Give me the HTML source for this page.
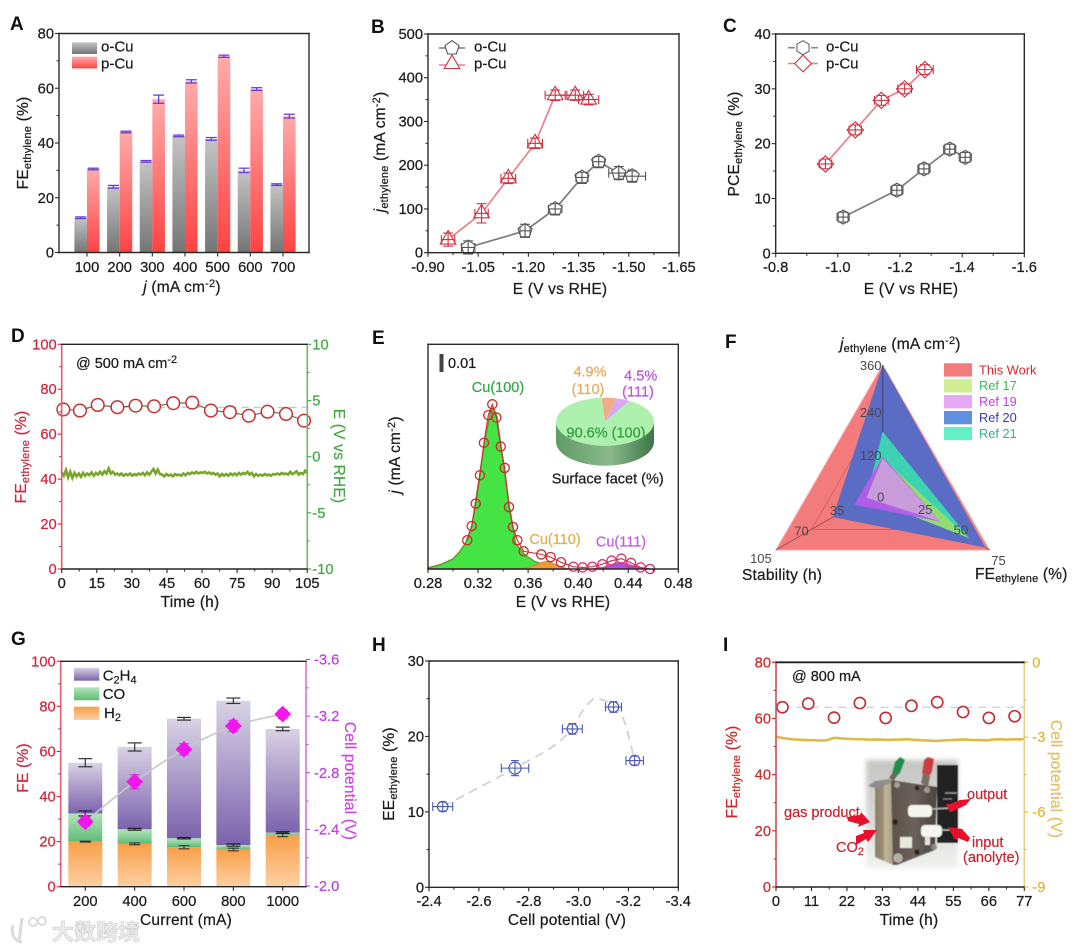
<!DOCTYPE html>
<html lang="en">
<head>
<meta charset="utf-8">
<title>Electrocatalysis performance figure</title>
<style>
html,body{margin:0;padding:0;background:#fff;}
svg{display:block;filter:blur(.35px);font-family:"Liberation Sans","Noto Sans CJK SC",sans-serif;}
.tick,.title,.leg,.note{color:#1a1a1a;fill:currentColor;stroke:currentColor;stroke-width:.22px;}
.tick{font-size:14.7px;}
.title{font-size:15.5px;letter-spacing:.2px;}
.leg{font-size:15px;}
.letter{font-size:19px;font-weight:bold;fill:#111;}
.sub{font-size:11px;}
.note{font-size:14.5px;}
.anno{font-size:14.5px;fill:#c8242f;stroke:#c8242f;stroke-width:.2px;}
</style>
</head>
<body>
<svg xmlns="http://www.w3.org/2000/svg" width="1080" height="950" viewBox="0 0 1080 950">
<defs>
<linearGradient id="gGrey" x1="0" y1="0" x2="0" y2="1"><stop offset="0" stop-color="#c4c4c4"/><stop offset="1" stop-color="#757575"/></linearGradient>
<linearGradient id="gRed" x1="0" y1="0" x2="0" y2="1"><stop offset="0" stop-color="#ffabab"/><stop offset="1" stop-color="#ff4343"/></linearGradient>
<linearGradient id="gPurple" x1="0" y1="0" x2="0" y2="1"><stop offset="0" stop-color="#d9d2e4"/><stop offset="1" stop-color="#7a63ad"/></linearGradient>
<linearGradient id="gGreen" x1="0" y1="0" x2="0" y2="1"><stop offset="0" stop-color="#b4e4ba"/><stop offset="1" stop-color="#5fbb78"/></linearGradient>
<linearGradient id="gOrange" x1="0" y1="0" x2="0" y2="1"><stop offset="0" stop-color="#f99f48"/><stop offset="1" stop-color="#fdd0a4"/></linearGradient>
<linearGradient id="gPieSide" x1="0" y1="0" x2="1" y2="0"><stop offset="0" stop-color="#5f9c66"/><stop offset=".55" stop-color="#8bb98c"/><stop offset="1" stop-color="#3c7546"/></linearGradient>
<linearGradient id="gPhoto" x1="0" y1="0" x2="0" y2="1"><stop offset="0" stop-color="#c4c4c2"/><stop offset=".6" stop-color="#dcdcda"/><stop offset="1" stop-color="#f0f0ee"/></linearGradient>
<linearGradient id="gPlate" x1="0" y1="0" x2="1" y2="0"><stop offset="0" stop-color="#5a524c"/><stop offset=".5" stop-color="#6b6159"/><stop offset="1" stop-color="#4a4540"/></linearGradient>
<linearGradient id="gSide" x1="0" y1="0" x2="1" y2="0"><stop offset="0" stop-color="#8c8068"/><stop offset=".45" stop-color="#9a8c74"/><stop offset=".55" stop-color="#c2b69c"/><stop offset="1" stop-color="#aca086"/></linearGradient>
<filter id="soft" x="-10%" y="-10%" width="120%" height="120%"><feGaussianBlur stdDeviation="2.5"/></filter>
<filter id="soft1" x="-10%" y="-10%" width="120%" height="120%"><feGaussianBlur stdDeviation=".6"/></filter>
</defs>

<text class="letter" x="10" y="30">A</text>
<text class="letter" x="371" y="33">B</text>
<text class="letter" x="723" y="32">C</text>
<text class="letter" x="11" y="342">D</text>
<text class="letter" x="372" y="344">E</text>
<text class="letter" x="725" y="348">F</text>
<text class="letter" x="11" y="645">G</text>
<text class="letter" x="372" y="651">H</text>
<text class="letter" x="723" y="651">I</text>

<g id="panelA">
  <text class="title" transform="translate(28,143) rotate(-90)" text-anchor="middle">FE<tspan class="sub" dy="3">ethylene</tspan><tspan dy="-3"> (%)</tspan></text>
  <text class="title" x="182" y="292" text-anchor="middle"><tspan font-style="italic">j</tspan> (mA cm<tspan class="sub" dy="-5">-2</tspan><tspan dy="5">)</tspan></text>
  <rect x="72" y="42.3" width="25" height="11.7" fill="url(#gGrey)"/>
  <rect x="72" y="56.7" width="25" height="11.7" fill="url(#gRed)"/>
  <text class="leg" x="101" y="51.7">o-Cu</text>
  <text class="leg" x="101" y="68.3">p-Cu</text>
</g>

<g id="panelB">
  <text class="title" transform="translate(385,152) rotate(-90)" text-anchor="middle"><tspan font-style="italic">j</tspan><tspan class="sub" dy="3">ethylene</tspan><tspan dy="-3"> (mA cm</tspan><tspan class="sub" dy="-5">-2</tspan><tspan dy="5">)</tspan></text>
  <text class="title" x="560" y="294" text-anchor="middle">E (V vs RHE)</text>
  <text class="leg" x="474" y="51.7">o-Cu</text>
  <text class="leg" x="474" y="68.3">p-Cu</text>
</g>

<g id="panelC">
  <text class="title" transform="translate(739,144) rotate(-90)" text-anchor="middle">PCE<tspan class="sub" dy="3">ethylene</tspan><tspan dy="-3"> (%)</tspan></text>
  <text class="title" x="911" y="294" text-anchor="middle">E (V vs RHE)</text>
  <text class="leg" x="826" y="51.7">o-Cu</text>
  <text class="leg" x="826" y="68.3">p-Cu</text>
</g>

<g id="panelD">
  <text class="title" style="color:#d0263f" transform="translate(26,457) rotate(-90)" text-anchor="middle">FE<tspan class="sub" dy="3">ethylene</tspan><tspan dy="-3"> (%)</tspan></text>
  <text class="title" style="color:#45a845" transform="translate(334,456) rotate(90)" text-anchor="middle">E (V vs RHE)</text>
  <text class="title" x="190" y="607" text-anchor="middle">Time (h)</text>
  <text class="note" x="76" y="368">@ 500 mA cm<tspan class="sub" dy="-5">-2</tspan></text>
</g>

<g id="panelE">
  <text class="title" transform="translate(400,455) rotate(-90)" text-anchor="middle"><tspan font-style="italic">j</tspan> (mA cm<tspan class="sub" dy="-5">-2</tspan><tspan dy="5">)</tspan></text>
  <text class="title" x="563" y="607" text-anchor="middle">E (V vs RHE)</text>
  <rect x="439.5" y="354" width="4" height="18" fill="#444"/>
  <text class="note" x="448" y="368">0.01</text>
  <text class="note" style="color:#2eaa4a" x="498" y="392" text-anchor="middle">Cu(100)</text>
  <text class="note" style="color:#e0b050" x="555" y="544" text-anchor="middle">Cu(110)</text>
  <text class="note" style="color:#c060e0" x="621" y="546.7" text-anchor="middle">Cu(111)</text>
</g>

<g id="panelF">
  <text class="title" x="840" y="349"><tspan font-style="italic">j</tspan><tspan class="sub" dy="3">ethylene</tspan><tspan dy="-3"> (mA cm</tspan><tspan class="sub" dy="-5">-2</tspan><tspan dy="5">)</tspan></text>
  <text class="title" x="742" y="580">Stability (h)</text>
  <text class="title" x="975" y="579">FE<tspan class="sub" dy="3">ethylene</tspan><tspan dy="-3"> (%)</tspan></text>
</g>

<g id="panelG">
  <text class="title" style="color:#d0263f" transform="translate(28,768) rotate(-90)" text-anchor="middle">FE (%)</text>
  <text class="title" style="color:#cf45e0" transform="translate(345,781) rotate(90)" text-anchor="middle">Cell potential (V)</text>
  <text class="title" x="186" y="925" text-anchor="middle">Current (mA)</text>
</g>

<g id="panelH">
  <text class="title" transform="translate(394,774) rotate(-90)" text-anchor="middle">EE<tspan class="sub" dy="3">ethylene</tspan><tspan dy="-3"> (%)</tspan></text>
  <text class="title" x="567" y="925" text-anchor="middle">Cell potential (V)</text>
</g>

<g id="panelI">
  <text class="title" style="color:#cc2a2a" transform="translate(737,772) rotate(-90)" text-anchor="middle">FE<tspan class="sub" dy="3">ethylene</tspan><tspan dy="-3"> (%)</tspan></text>
  <text class="title" style="color:#e0c060" transform="translate(1051,779) rotate(90)" text-anchor="middle">Cell potential (V)</text>
  <text class="title" x="909" y="925" text-anchor="middle">Time (h)</text>
  <text class="note" x="792" y="681">@ 800 mA</text>
  <g>
    <g filter="url(#soft1)">
      <rect x="866" y="760" width="92" height="108" fill="url(#gPhoto)" filter="url(#soft)"/>
      <rect x="937" y="765" width="21" height="78" fill="#222"/>
      <line x1="945" y1="793" x2="957" y2="793" stroke="#999" stroke-width="1.4"/>
      <line x1="943" y1="799" x2="952" y2="799" stroke="#888" stroke-width="1.2"/>
      <polygon points="875,787 892,780 893,865 875,857" fill="url(#gSide)"/>
      <polygon points="891,780 937,787 935,850 897,865 893,865" fill="url(#gPlate)"/>
      <polygon points="868,786 875,781 890,779 891,783 875,788" fill="#8d8d8a"/>
      <polygon points="892,773 895,762 900,757 905,760 900,773 896,777" fill="#1f8f4a"/>
      <polygon points="889,778 893,772 897,775 894,781" fill="#6d665a"/>
      <polygon points="922,773 924,760 928,757 934,759 932,772 928,778" fill="#c8403c"/>
      <polygon points="921,783 923,773 930,776 928,788" fill="#7a6e62"/>
      <rect x="908" y="805" width="24" height="12" rx="4" fill="#f6f6f0"/>
      <line x1="932" y1="809" x2="951" y2="808" stroke="#b8b8b8" stroke-width="1.6"/>
      <rect x="921" y="825" width="21" height="12" rx="4" fill="#f6f6f0"/>
      <rect x="925" y="836" width="5" height="9" fill="#e4e4dc"/>
      <line x1="942" y1="830" x2="950" y2="830" stroke="#c0c0c0" stroke-width="1.4"/>
      <rect x="900" y="837" width="12" height="11" fill="#e8e8e0"/>
      <circle cx="897" cy="785" r="3" fill="#a29c90"/>
      <circle cx="917" cy="788" r="2.4" fill="#2c2a28"/>
      <circle cx="927" cy="790" r="3" fill="#a29c90"/>
      <circle cx="895" cy="822" r="2.8" fill="#26241f"/>
      <circle cx="898" cy="858" r="5.5" fill="#b4b0a4" stroke="#55504a" stroke-width="1.2"/>
      <circle cx="917" cy="852" r="2.6" fill="#26241f"/>
      <circle cx="934" cy="847" r="3" fill="#8e8a80"/>
    </g>
    <polygon points="847,817 860,815 861,812 870,822 858,827 859,824 848,821" fill="#e8102a"/>
    <polygon points="856,845 856,836 864,833 863,830 877,830 868,842 866,839" fill="#e8102a"/>
    <polygon points="951,812 966,805 971,799 960,800 950,804 946,804 950,812" fill="#e8102a"/>
    <polygon points="948,827 962,829 970,838 968,842 958,838 955,840" fill="#e8102a"/>
    <text class="anno" x="784" y="817">gas product</text>
    <text class="anno" x="836" y="852">CO<tspan class="sub" dy="3">2</tspan></text>
    <text class="anno" x="967" y="799">output</text>
    <text class="anno" x="972" y="847">input</text>
    <text class="anno" x="963" y="862">(anolyte)</text>
  </g>
</g>

<g>
  <path d="M13,925 C11,934 14,941 22,942 M22,918 L19,942" fill="none" stroke="#dcdcdc" stroke-width="3.2"/>
  <circle cx="33" cy="922" r="4" fill="none" stroke="#dcdcdc" stroke-width="2"/>
  <circle cx="42" cy="921" r="4" fill="none" stroke="#dcdcdc" stroke-width="2"/>
  <text x="52" y="940" font-size="22" font-weight="bold" fill="#ececec" stroke="#c6c6c6" stroke-width=".5" style="font-family:'Noto Sans CJK SC',sans-serif">大数跨境</text>
</g>
</svg>

<script>
/* ---------- Panel A data ---------- */
const aCategories = ['100','200','300','400','500','600','700'];
const aOCu = [12.7,24,33.3,42.6,41.5,30,24.8];
const aPCu = [30.5,44,56,62.5,71.7,59.7,49.8];
const aOErr = [0.3,0.5,0.3,0.3,0.5,0.8,0.3];
const aPErr = [0.3,0.3,1.5,0.6,0.4,0.5,0.7];
const aYTicks = ['0','20','40','60','80'];
/* ---------- Panel B data ---------- */
const bOE = [-1.02,-1.19,-1.28,-1.36,-1.41,-1.47,-1.51];
const bOJ = [12,50,100,172,208,182,175];
const bOEErr = [0.02,0.015,0.02,0.018,0.018,0.03,0.04];
const bOJErr = [15,15,12,12,12,15,12];
const bPE = [-0.96,-1.06,-1.14,-1.22,-1.28,-1.34,-1.38];
const bPJ = [30,90,170,250,360,360,350];
const bPEErr = [0.02,0.02,0.022,0.022,0.03,0.025,0.03];
const bPJErr = [15,22,12,12,12,12,12];
const bXTicks = ['-0.90','-1.05','-1.20','-1.35','-1.50','-1.65'];
const bYTicks = ['0','100','200','300','400','500'];
/* ---------- Panel C data ---------- */
const cOE = [-1.017,-1.19,-1.277,-1.36,-1.41];
const cOP = [6.6,11.5,15.4,19,17.5];
const cPE = [-0.96,-1.056,-1.14,-1.215,-1.28];
const cPP = [16.3,22.5,27.9,30,33.5];
const cPEErr = [0.02,0.02,0.022,0.022,0.027];
const cXTicks = ['-0.8','-1.0','-1.2','-1.4','-1.6'];
const cYTicks = ['0','10','20','30','40'];
/* ---------- Panel D data ---------- */
const dTime = [0.7,7.8,15.4,23.8,31.6,39.5,47.7,55.8,63.8,71.9,80,88,95.9,103.6];
const dFE = [71,70.5,73,72,72.7,72.4,73.8,74,70.5,69.8,68.2,70,69,66];
const dVoltage = [-1.4,-1.7,-1.2,-1.85,-1.35,-1.9,-1.45,-1.75,-1.5,-1.8,-1.45,-1.7,-1.5,-1.65,-1.4,-1.7,-1.45,-1.6,-1.35,-1.6,-1.3,-1.5,-1.05,-1.5,-1.35,-1.6,-1.5,-1.65,-1.5,-1.7,-1.55,-1.65,-1.5,-1.7,-1.55,-1.65,-1.5,-1.6,-1.45,-1.65,-1.4,-1.6,-1.35,-1.1,-1.5,-1.15,-1.55,-1.6,-1.75,-1.55,-1.7,-1.6,-1.75,-1.55,-1.65,-1.6,-1.7,-1.5,-1.65,-1.45,-1.55,-1.4,-1.5,-1.35,-1.5,-1.4,-1.45,-1.35,-1.5,-1.4,-1.55,-1.45,-1.6,-1.5,-1.75,-1.55,-1.7,-1.55,-1.7,-1.5,-1.65,-1.5,-1.65,-1.45,-1.6,-1.45,-1.55,-1.35,-1.6,-1.45,-1.75,-1.55,-1.7,-1.6,-1.7,-1.55,-1.65,-1.6,-1.7,-1.55,-1.6,-1.5,-1.6,-1.45,-1.55,-1.5,-1.6,-1.35,-1.55,-1.45,-1.3,-1.6,-1.45,-1.55,-1.25,-1.5];
const dLeftTicks = ['0','20','40','60','80','100'];
const dRightTicks = ['-10','-5','0','5','10'];
const dXTicks = ['0','15','30','45','60','75','90','105'];
/* ---------- Panel E data ---------- */
const ePointsE = [.3114,.3149,.3181,.3215,.3247,.3282,.3314,.3346,.3381,.3413,.3447,.3479,.3514,.3564,.3705,.378,.3863,.3961,.4036,.4113,.4193,.4267,.4345,.4422,.4499,.4574];
const ePointsJ = [.128,.191,.291,.417,.562,.685,.733,.674,.545,.45,.276,.187,.128,.079,.065,.053,.03,.01,.007,.01,.021,.037,.046,.027,.007,0];
const ePeak100E = [.28,.29,.30,.305,.31,.315,.32,.325,.33,.332,.335,.34,.345,.35,.3575,.3655,.3797,.39];
const ePeak100J = [.005,.02,.045,.075,.115,.19,.37,.56,.70,.72,.68,.48,.28,.114,.062,.033,.004,0];
const ePeak110E = [.352,.36,.365,.37,.374,.378,.382,.386,.39,.395];
const ePeak110J = [0,.006,.016,.028,.034,.03,.02,.01,.004,0];
const ePeak111E = [.41,.42,.425,.43,.434,.44,.445,.45,.46];
const ePeak111J = [0,.008,.018,.026,.03,.022,.012,.005,0];
const eXTicks = ['0.28','0.32','0.36','0.40','0.44','0.48'];
const piePercents = [4.9,4.5,90.6];
const pieLabels = ['(110)','(111)','(100)'];
/* ---------- Panel F data ---------- */
const radarMax = [360,105,75];
const radarThisWork = [360,105,75];
const radarRef20 = [360,49,72];
const radarRef21 = [165,16,61];
const radarRef17 = [88,16,60];
const radarRef19 = [92,28,40.5];
const radarTicksTop = ['120','240','360'];
const radarTicksLeft = ['35','70','105'];
const radarTicksRight = ['25','50','75'];
const radarLegend = ['This Work','Ref 17','Ref 19','Ref 20','Ref 21'];
/* ---------- Panel G data ---------- */
const gCurrents = ['200','400','600','800','1000'];
const gH2 = [20,19,17.5,16.5,23];
const gCO = [12.5,6.5,4,2,1];
const gC2H4 = [22.5,36.5,53,64,46];
const gTopErr = [1.8,1.8,0.6,1.2,0.8];
const gCOErr = [1.1,0.4,0.3,0.5,0.4];
const gH2Err = [0.2,0.4,0.7,0.6,0.8];
const gPotential = [-2.454,-2.736,-2.965,-3.13,-3.214];
const gPotentialErr = [0.03,0.05,0.04,0.04,0.03];
const gLeftTicks = ['0','20','40','60','80','100'];
const gRightTicks = ['-2.0','-2.4','-2.8','-3.2','-3.6'];
/* ---------- Panel H data ---------- */
const hPotential = [-2.455,-2.745,-2.975,-3.14,-3.225];
const hEE = [10.7,15.8,21,23.9,16.8];
const hXErr = [0.04,0.055,0.04,0.032,0.035];
const hYErr = [0.6,1,0.7,0.7,0.6];
const hTrendX = [-2.455,-2.745,-2.93,-3.03,-3.08,-3.17,-3.225];
const hTrendY = [10.7,15.8,19.5,24,25,23,16.8];
const hXTicks = ['-2.4','-2.6','-2.8','-3.0','-3.2','-3.4'];
const hYTicks = ['0','10','20','30'];
/* ---------- Panel I data ---------- */
const iTime = [2,10,18,26,34,42,50,58,66,74];
const iFE = [64,65.3,60.3,65.5,60.2,64.5,65.8,62.3,60.2,60.8];
const iVoltage = [-2.98,-3.02,-3.05,-3.07,-3.09,-3.1,-3.11,-3.12,-3.12,-3.13,-3.13,-3.12,-3.04,-3.03,-3.05,-3.06,-3.07,-3.08,-3.08,-3.09,-3.1,-3.1,-3.09,-3.1,-3.11,-3.1,-3.1,-3.09,-3.08,-3.1,-3.11,-3.12,-3.13,-3.14,-3.15,-3.14,-3.13,-3.12,-3.11,-3.1,-3.09,-3.1,-3.12,-3.11,-3.12,-3.13,-3.1,-3.09,-3.08,-3.1,-3.09,-3.08,-3.09,-3.07];
const iLeftTicks = ['0','20','40','60','80'];
const iRightTicks = ['0','-3','-6','-9'];
const iXTicks = ['0','11','22','33','44','55','66','77'];

/* ---------- helpers ---------- */
const NS = 'http://www.w3.org/2000/svg';
function mk(tag, name, attrs, parent, txt) {
  const e = document.createElementNS(NS, tag);
  for (const k in attrs) e.setAttribute(k, attrs[k]);
  
  
  if (txt !== undefined) e.textContent = txt;
  parent.appendChild(e);
  return e;
}
function lin(d0, d1, r0, r1) { return v => r0 + (v - d0) / (d1 - d0) * (r1 - r0); }
function frame(g, name, x0, y0, x1, y1, c, w) {
  const sides = [['left', x0, y0, x0, y1], ['right', x1, y0, x1, y1], ['top', x0, y0, x1, y0], ['bottom', x0, y1, x1, y1]];
  sides.forEach(s => mk('line', name + '-spine-' + s[0], {x1: s[1], y1: s[2], x2: s[3], y2: s[4], stroke: c[s[0]] || '#2a2a2a', 'stroke-width': (c[s[0] + 'W'] || w || 1.4), 'stroke-linecap': 'square'}, g));
}
function xAxis(g, name, scale, y, ticks, labelY, minors) {
  ticks.forEach(t => {
    const v = parseFloat(t);
    mk('line', name + '-x-tick', {x1: scale(v), x2: scale(v), y1: y, y2: y + 4, stroke: '#2a2a2a', 'stroke-width': 1.1}, g);
    mk('text', name + '-x-tick-label', {x: scale(v), y: labelY, 'text-anchor': 'middle', class: 'tick'}, g, t);
  });
  (minors || []).forEach(v => mk('line', name + '-x-minor-tick', {x1: scale(v), x2: scale(v), y1: y, y2: y + 2.5, stroke: '#2a2a2a', 'stroke-width': 1}, g));
}
function yAxis(g, name, scale, x, ticks, minors, color, right, gap) {
  const dir = right ? 1 : -1;
  const c = color || '#2a2a2a';
  ticks.forEach(t => {
    const v = parseFloat(t);
    mk('line', name + '-y-tick', {x1: x, x2: x + dir * 4, y1: scale(v), y2: scale(v), stroke: c, 'stroke-width': 1.1}, g);
    const lab = mk('text', name + '-y-tick-label', {x: x + dir * (gap || 5), y: scale(v) + 5, 'text-anchor': right ? 'start' : 'end', class: 'tick'}, g, t);
    if (color) lab.style.color = color;
  });
  (minors || []).forEach(v => mk('line', name + '-y-minor-tick', {x1: x, x2: x + dir * 2.5, y1: scale(v), y2: scale(v), stroke: c, 'stroke-width': 1}, g));
}
function steps(a, b, s) { const out = []; const n = Math.round((b - a) / s); for (let i = 0; i <= n; i++) out.push(a + s * i); return out; }
function polyPts(xs, ys, sx, sy) { return xs.map((x, i) => sx(x).toFixed(2) + ',' + sy(ys[i]).toFixed(2)).join(' '); }
function regular(cx, cy, r, n, rot) {
  const p = [];
  for (let i = 0; i < n; i++) {
    const a = rot + i * 2 * Math.PI / n;
    p.push((cx + r * Math.cos(a)).toFixed(2) + ',' + (cy + r * Math.sin(a)).toFixed(2));
  }
  return p.join(' ');
}
const UP = -Math.PI / 2;
function marker(g, name, n, cx, cy, r, stroke, w) {
  if (n === 0) return mk('circle', name, {cx: cx, cy: cy, r: r, fill: '#fff', stroke: stroke, 'stroke-width': w || 1.1}, g);
  return mk('polygon', name, {points: regular(cx, cy, r, n, n === 4 ? 0 : UP), fill: '#fff', stroke: stroke, 'stroke-width': w || 1.1}, g);
}
function errX(g, name, x, y, e, sx, color, cap) {
  mk('line', name + '-x-error', {x1: sx(x - e), x2: sx(x + e), y1: y, y2: y, stroke: color, 'stroke-width': 1.1}, g);
  mk('line', name + '-x-error-cap', {x1: sx(x - e), x2: sx(x - e), y1: y - cap, y2: y + cap, stroke: color, 'stroke-width': 1.1}, g);
  mk('line', name + '-x-error-cap', {x1: sx(x + e), x2: sx(x + e), y1: y - cap, y2: y + cap, stroke: color, 'stroke-width': 1.1}, g);
}
function errY(g, name, x, y, e, sy, color, cap, w) {
  mk('line', name + '-y-error', {x1: x, x2: x, y1: sy(y - e), y2: sy(y + e), stroke: color, 'stroke-width': w || 1.1}, g);
  mk('line', name + '-y-error-cap', {x1: x - cap, x2: x + cap, y1: sy(y - e), y2: sy(y - e), stroke: color, 'stroke-width': w || 1.1}, g);
  mk('line', name + '-y-error-cap', {x1: x - cap, x2: x + cap, y1: sy(y + e), y2: sy(y + e), stroke: color, 'stroke-width': w || 1.1}, g);
}
function series(g, name, n, xs, ys, xe, ye, sx, sy, lineC, markC, r) {
  mk('polyline', name + '-line', {points: polyPts(xs, ys, sx, sy), fill: 'none', stroke: lineC, 'stroke-width': 1.7}, g);
  xs.forEach((x, i) => {
    const px = sx(x), py = sy(ys[i]);
    marker(g, name + '-point', n, px, py, r, markC);
    errX(g, name, x, py, xe[i], sx, markC, 4.5);
    errY(g, name, px, ys[i], ye[i], sy, markC, 5);
  });
}
function smoothPath(xs, ys, sx, sy) {
  const p = xs.map((x, i) => [sx(x), sy(ys[i])]);
  let d = 'M' + p[0][0] + ',' + p[0][1];
  for (let i = 0; i < p.length - 1; i++) {
    const a = p[Math.max(i - 1, 0)], b = p[i], c = p[i + 1], e = p[Math.min(i + 2, p.length - 1)];
    d += 'C' + (b[0] + (c[0] - a[0]) / 6) + ',' + (b[1] + (c[1] - a[1]) / 6) + ' ' + (c[0] - (e[0] - b[0]) / 6) + ',' + (c[1] - (e[1] - b[1]) / 6) + ' ' + c[0] + ',' + c[1];
  }
  return d;
}

/* ---------- Panel A ---------- */
(function () {
  const g = document.getElementById('panelA');
  const xc = lin(0, 6, 87, 283), sy = lin(0, 80, 252.5, 33.5), w = 12.6;
  aOCu.forEach((v, i) => {
    mk('rect', 'bar-o-cu-' + aCategories[i], {x: xc(i) - w, y: sy(v), width: w, height: sy(0) - sy(v), fill: 'url(#gGrey)'}, g);
    mk('rect', 'bar-p-cu-' + aCategories[i], {x: xc(i), y: sy(aPCu[i]), width: w, height: sy(0) - sy(aPCu[i]), fill: 'url(#gRed)'}, g);
    errY(g, 'bar-o-cu', xc(i) - w / 2, v, aOErr[i], sy, '#6a3fd0', 5.5, 1.3);
    errY(g, 'bar-p-cu', xc(i) + w / 2, aPCu[i], aPErr[i], sy, '#6a3fd0', 5.5, 1.3);
  });
  frame(g, 'plot-a', 59, 33.5, 309, 252.5, {});
  yAxis(g, 'panel-a', sy, 59, aYTicks, steps(10, 70, 20));
  aCategories.forEach((c, i) => {
    mk('line', 'panel-a-x-tick', {x1: xc(i), x2: xc(i), y1: 252.5, y2: 256.5, stroke: '#2a2a2a', 'stroke-width': 1.1}, g);
    mk('text', 'panel-a-x-tick-label', {x: xc(i), y: 272, 'text-anchor': 'middle', class: 'tick'}, g, c);
  });
})();

/* ---------- Panel B ---------- */
(function () {
  const g = document.getElementById('panelB');
  const sx = lin(-0.9, -1.65, 428, 679), sy = lin(0, 500, 252.7, 34);
  series(g, 'o-cu', 5, bOE, bOJ, bOEErr, bOJErr, sx, sy, '#7c7c7c', '#555', 7.4);
  series(g, 'p-cu', 3, bPE, bPJ, bPEErr, bPJErr, sx, sy, '#e8808c', '#d03040', 9);
  frame(g, 'plot-b', 428, 34, 679, 252.7, {});
  xAxis(g, 'panel-b', sx, 252.7, bXTicks, 272, steps(-0.975, -1.575, -0.15));
  yAxis(g, 'panel-b', sy, 428, bYTicks, steps(50, 450, 100));
  mk('line', 'legend-line-o-cu', {x1: 439, x2: 465, y1: 48, y2: 48, stroke: '#7c7c7c', 'stroke-width': 1.6}, g);
  marker(g, 'legend-marker-o-cu', 5, 452, 48, 7.4, '#555');
  mk('line', 'legend-line-p-cu', {x1: 439, x2: 465, y1: 65, y2: 65, stroke: '#e8808c', 'stroke-width': 1.6}, g);
  marker(g, 'legend-marker-p-cu', 3, 452, 64, 9, '#d03040');
})();

/* ---------- Panel C ---------- */
(function () {
  const g = document.getElementById('panelC');
  const sx = lin(-0.8, -1.6, 775.7, 1024.3), sy = lin(0, 40, 253.3, 34);
  const oe = cOE.map(() => 0.016), oy = cOP.map(() => 0.9);
  const py = cPP.map(() => 0.9);
  series(g, 'o-cu', 6, cOE, cOP, oe, oy, sx, sy, '#7c7c7c', '#555', 7);
  series(g, 'p-cu', 4, cPE, cPP, cPEErr, py, sx, sy, '#e8808c', '#d03040', 8.2);
  frame(g, 'plot-c', 775.7, 34, 1024.3, 253.3, {});
  xAxis(g, 'panel-c', sx, 253.3, cXTicks, 272, steps(-0.9, -1.5, -0.2));
  yAxis(g, 'panel-c', sy, 775.7, cYTicks, steps(5, 35, 10));
  mk('line', 'legend-line-o-cu', {x1: 788, x2: 818, y1: 47.7, y2: 47.7, stroke: '#8a8a8a', 'stroke-width': 1.6, 'stroke-dasharray': '7 16 7'}, g);
  marker(g, 'legend-marker-o-cu', 6, 803, 47.7, 7, '#666');
  mk('line', 'legend-line-p-cu', {x1: 788, x2: 818, y1: 63.5, y2: 63.5, stroke: '#e8808c', 'stroke-width': 1.6}, g);
  marker(g, 'legend-marker-p-cu', 4, 803, 63.5, 8.4, '#d03040');
})();

/* ---------- Panel D ---------- */
(function () {
  const g = document.getElementById('panelD');
  const sx = lin(0, 105, 61.7, 307.3), sy = lin(0, 100, 569, 344.3), sr = lin(-10, 10, 569, 344.3);
  const step = 105 / (dVoltage.length - 1);
  mk('line', 'fe-average-line', {x1: sx(0), x2: sx(105), y1: sy(72), y2: sy(72), stroke: '#9cc4c0', 'stroke-width': 1, 'stroke-dasharray': '7 5'}, g);
  mk('polyline', 'voltage-trace', {points: polyPts(dVoltage.map((v, i) => i * step), dVoltage, sx, sr), fill: 'none', stroke: '#7aa52a', 'stroke-width': 2.6}, g);
  mk('polyline', 'fe-line', {points: polyPts(dTime, dFE, sx, sy), fill: 'none', stroke: '#5e6e62', 'stroke-width': 1.2}, g);
  dTime.forEach((t, i) => {
    mk('circle', 'fe-point', {cx: sx(t), cy: sy(dFE[i]), r: 6.3, fill: '#fff', stroke: '#c83030', 'stroke-width': 1.5}, g);
  });
  frame(g, 'plot-d', 61.7, 344.3, 307.3, 569, {left: '#e0606e', right: '#6fb56f', top: '#222', bottom: '#222', leftW: 1.6, rightW: 1.6});
  xAxis(g, 'panel-d', sx, 569, dXTicks, 588, steps(7.5, 97.5, 15));
  yAxis(g, 'panel-d-left', sy, 61.7, dLeftTicks, steps(10, 90, 20), '#d0263f');
  yAxis(g, 'panel-d-right', sr, 307.3, dRightTicks, steps(-7.5, 7.5, 5), '#45a845', true, 5);
})();

/* ---------- Panel E ---------- */
(function () {
  const g = document.getElementById('panelE');
  const sx = lin(0.28, 0.48, 428, 678.3), sy = lin(0, 1, 569, 344.3);
  function area(name, xs, ys, fill, stroke, w) {
    const pts = sx(xs[0]) + ',' + sy(0) + ' ' + polyPts(xs, ys, sx, sy) + ' ' + sx(xs[xs.length - 1]) + ',' + sy(0);
    mk('polygon', name, {points: pts, fill: fill, stroke: stroke, 'stroke-width': w}, g);
  }
  area('peak-cu100-area', ePeak100E, ePeak100J, '#45e445', '#6f9438', 1.5);
  area('peak-cu110-area', ePeak110E, ePeak110J, '#f09a30', '#b08a40', 0.8);
  area('peak-cu111-area', ePeak111E, ePeak111J, '#b050e0', '#a060c0', 0.8);
  mk('polyline', 'fit-envelope-line', {points: polyPts(ePointsE, ePointsJ, sx, sy), fill: 'none', stroke: '#d02a3a', 'stroke-width': 1.1}, g);
  ePointsE.forEach((e, i) => {
    mk('circle', 'lsv-point', {cx: sx(e), cy: sy(ePointsJ[i]), r: 4.6, fill: 'none', stroke: e > 0.39 ? '#e02a6a' : '#c92a2a', 'stroke-width': 1.3}, g);
  });
  frame(g, 'plot-e', 428, 344.3, 678.3, 569, {});
  xAxis(g, 'panel-e', sx, 569, eXTicks, 588, steps(0.30, 0.46, 0.04));

  /* pie inset */
  const cx = 605, cy = 421.7, rx = 49, ry = 24, depth = 20;
  mk('path', 'pie-side', {d: 'M' + (cx - rx) + ',' + cy + ' A' + rx + ',' + ry + ' 0 0 0 ' + (cx + rx) + ',' + cy + ' L' + (cx + rx) + ',' + (cy + depth) + ' A' + rx + ',' + ry + ' 0 0 1 ' + (cx - rx) + ',' + (cy + depth) + ' Z', fill: 'url(#gPieSide)'}, g);
  const colors = ['#efae86', '#d9a8f0', '#aef0ae'];
  const total = piePercents.reduce((a, b) => a + b, 0);
  let ang = -94;
  piePercents.forEach((p, i) => {
    const next = ang + p / total * 360;
    const a0 = ang * Math.PI / 180, a1 = next * Math.PI / 180;
    const big = next - ang > 180 ? 1 : 0;
    mk('path', 'pie-slice-' + pieLabels[i].replace(/[()]/g, ''), {d: 'M' + cx + ',' + cy + ' L' + (cx + rx * Math.cos(a0)) + ',' + (cy + ry * Math.sin(a0)) + ' A' + rx + ',' + ry + ' 0 ' + big + ' 1 ' + (cx + rx * Math.cos(a1)) + ',' + (cy + ry * Math.sin(a1)) + ' Z', fill: colors[i]}, g);
    ang = next;
  });
  const labs = [
    [piePercents[0] + '%', 590, 376.7, '#e5ab5c'], [pieLabels[0], 588, 394, '#e5ab5c'],
    [piePercents[1] + '%', 640.7, 380.7, '#c050e0'], [pieLabels[1], 638, 396.7, '#c050e0'],
    [piePercents[2] + '% ' + pieLabels[2], 606, 437.7, '#2e9e3e'], ['Surface facet (%)', 607.7, 483.3, '#1a1a1a']
  ];
  labs.forEach(l => {
    const t = mk('text', 'pie-label', {x: l[1], y: l[2], 'text-anchor': 'middle', class: 'note'}, g, l[0]);
    t.style.color = l[3];
  });
})();

/* ---------- Panel F ---------- */
(function () {
  const g = document.getElementById('panelF');
  const cx = 882.7, cy = 488.3, R = 123.3;
  const dirs = [[0, -1], [-Math.cos(Math.PI / 6), 0.5], [Math.cos(Math.PI / 6), 0.5]];
  function pt(ax, v) { const r = v / radarMax[ax] * R; return [cx + dirs[ax][0] * r, cy + dirs[ax][1] * r]; }
  function tri(vals) { return vals.map((v, i) => pt(i, v).map(n => n.toFixed(2)).join(',')).join(' '); }
  mk('polygon', 'radar-this-work', {points: tri(radarThisWork), fill: '#f47b7b', stroke: '#f3a9a9', 'stroke-width': 1}, g);
  [0, 1, 2].forEach(ax => {
    const e = pt(ax, radarMax[ax]);
    mk('line', 'radar-axis', {x1: cx, y1: cy, x2: e[0], y2: e[1], stroke: '#6a3a45', 'stroke-width': .8, 'stroke-opacity': .8}, g);
  });
  [1 / 3, 2 / 3].forEach(f => {
    const pts = [0, 1, 2].map(a => pt(a, radarMax[a] * f).map(n => n.toFixed(2)).join(',')).join(' ');
    mk('polygon', 'radar-grid-ring', {points: pts, fill: 'none', stroke: '#a04a55', 'stroke-width': .6, 'stroke-opacity': .7}, g);
  });
  mk('polygon', 'radar-ref-20', {points: tri(radarRef20), fill: '#5a6cc4'}, g);
  mk('polygon', 'radar-ref-21', {points: tri(radarRef21), fill: '#3ed2b4'}, g);
  mk('polygon', 'radar-ref-17', {points: tri(radarRef17), fill: '#8fdc72'}, g);
  mk('polygon', 'radar-ref-19', {points: tri(radarRef19), fill: '#b45ce8', 'fill-opacity': .95}, g);
  mk('polygon', 'radar-ref-overlap', {points: tri(radarRef17.map((v, i) => Math.min(v, radarRef19[i]))), fill: '#c79cd8'}, g);
  const axisEnd = pt(0, radarRef21[0]), axisTop = pt(0, radarMax[0]);
  mk('line', 'radar-top-axis-overlay', {x1: axisEnd[0], y1: axisEnd[1], x2: axisTop[0], y2: axisTop[1], stroke: '#2a2a50', 'stroke-width': .9, 'stroke-opacity': .7}, g);
  function radarLabel(ax, t, dx, dy) {
    const p = pt(ax, parseFloat(t));
    const e = mk('text', 'radar-tick-label', {x: p[0] + dx, y: p[1] + dy, 'text-anchor': 'middle'}, g, t);
    e.setAttribute('font-size', '13');
    e.setAttribute('fill', '#4d4650');
  }
  radarTicksTop.forEach((t, i) => radarLabel(0, t, -12, i === 2 ? 5 : 13 - i * 2));
  radarTicksLeft.forEach((t, i) => radarLabel(1, t, i === 2 ? -15 : -10, i === 2 ? 13 : 6));
  radarTicksRight.forEach((t, i) => radarLabel(2, t, i === 2 ? 9 : 7, i === 2 ? 15 : 5));
  mk('text', 'radar-center-label', {x: cx - 2, y: cy + 13, 'text-anchor': 'middle', 'font-size': 13, fill: '#4d4650'}, g, '0');
  const swatch = ['#f47b7b', '#cfee92', '#e4a8f4', '#6090e0', '#62f0c4'];
  const txtC = ['#cc2a2a', '#3cba5a', '#c040e0', '#3a3aa8', '#30b090'];
  radarLegend.forEach((s, i) => {
    mk('rect', 'legend-swatch-' + s.toLowerCase().replace(' ', '-'), {x: 944, y: 363.3 + i * 15.9, width: 28, height: 13.3, fill: swatch[i]}, g);
    mk('text', 'legend-label-' + s.toLowerCase().replace(' ', '-'), {x: 979, y: 374.3 + i * 15.9, 'font-size': 12.8, fill: txtC[i]}, g, s);
  });
})();

/* ---------- Panel G ---------- */
(function () {
  const g = document.getElementById('panelG');
  const xc = lin(0, 4, 85.3, 282.7), sy = lin(0, 100, 886.7, 661.3), sr = lin(-2, -3.6, 886, 659.5), w = 34;
  gCurrents.forEach((c, i) => {
    const h = gH2[i], co = h + gCO[i], top = co + gC2H4[i], x = xc(i) - w / 2;
    mk('rect', 'bar-h2-' + c, {x: x, y: sy(h), width: w, height: sy(0) - sy(h), fill: 'url(#gOrange)'}, g);
    mk('rect', 'bar-co-' + c, {x: x, y: sy(co), width: w, height: sy(h) - sy(co), fill: 'url(#gGreen)'}, g);
    mk('rect', 'bar-c2h4-' + c, {x: x, y: sy(top), width: w, height: sy(co) - sy(top), fill: 'url(#gPurple)'}, g);
    errY(g, 'bar-h2-' + c, xc(i), h, gH2Err[i], sy, '#333', 5.5);
    errY(g, 'bar-co-' + c, xc(i), co, gCOErr[i], sy, '#222', 7, 1.2);
    errY(g, 'bar-c2h4-' + c, xc(i), top, gTopErr[i], sy, '#333', 7, 1.2);
  });
  const idx = gCurrents.map((c, i) => i);
  mk('path', 'cell-potential-line', {d: smoothPath(idx, gPotential, xc, sr), fill: 'none', stroke: '#c9c6cc', 'stroke-width': 1.6}, g);
  gPotential.forEach((v, i) => {
    errY(g, 'cell-potential-point', xc(i), v, gPotentialErr[i], sr, '#d030e0', 5, 1);
    mk('polygon', 'cell-potential-point', {points: regular(xc(i), sr(v), 8.4, 4, 0), fill: '#f016ec'}, g);
  });
  frame(g, 'plot-g', 60.7, 661.3, 306, 886.7, {left: '#e0606e', right: '#e070e8', top: '#222', bottom: '#222', leftW: 1.6, rightW: 1.6});
  yAxis(g, 'panel-g-left', sy, 60.7, gLeftTicks, steps(10, 90, 20), '#d0263f');
  yAxis(g, 'panel-g-right', sr, 306, gRightTicks, steps(-2.2, -3.4, -0.4), '#c040e0', true, 8);
  gCurrents.forEach((c, i) => {
    mk('line', 'panel-g-x-tick', {x1: xc(i), x2: xc(i), y1: 886.7, y2: 890.7, stroke: '#2a2a2a', 'stroke-width': 1.1}, g);
    mk('text', 'panel-g-x-tick-label', {x: xc(i), y: 906, 'text-anchor': 'middle', class: 'tick'}, g, c);
  });
  mk('rect', 'legend-swatch-c2h4', {x: 74, y: 667.7, width: 25.3, height: 13, fill: 'url(#gPurple)'}, g);
  mk('rect', 'legend-swatch-co', {x: 74, y: 687.3, width: 25.3, height: 13, fill: 'url(#gGreen)'}, g);
  mk('rect', 'legend-swatch-h2', {x: 74, y: 706.7, width: 25.3, height: 13.3, fill: 'url(#gOrange)'}, g);
  const t1 = mk('text', 'legend-label-c2h4', {x: 102.7, y: 680.7, class: 'leg'}, g, 'C');
  mk('tspan', 'legend-label-c2h4-sub', {class: 'sub', dy: 3}, t1, '2');
  mk('tspan', 'legend-label-c2h4-h', {dy: -3}, t1, 'H');
  mk('tspan', 'legend-label-c2h4-sub', {class: 'sub', dy: 3}, t1, '4');
  mk('text', 'legend-label-co', {x: 102.7, y: 699, class: 'leg'}, g, 'CO');
  const t2 = mk('text', 'legend-label-h2', {x: 104, y: 718, class: 'leg'}, g, 'H');
  mk('tspan', 'legend-label-h2-sub', {class: 'sub', dy: 3}, t2, '2');
})();

/* ---------- Panel H ---------- */
(function () {
  const g = document.getElementById('panelH');
  const sx = lin(-2.4, -3.4, 429, 678.3), sy = lin(0, 30, 887.3, 661);
  mk('path', 'ee-trend-line', {d: smoothPath(hTrendX, hTrendY, sx, sy), fill: 'none', stroke: '#cfd2d6', 'stroke-width': 1.8, 'stroke-dasharray': '9 6'}, g);
  hPotential.forEach((v, i) => {
    const r = i === 1 ? 6 : 5.2;
    mk('circle', 'ee-point', {cx: sx(v), cy: sy(hEE[i]), r: r, fill: '#fff', stroke: '#4a58b8', 'stroke-width': 1.2}, g);
    errX(g, 'ee-point', v, sy(hEE[i]), hXErr[i], sx, '#4a58b8', 4.5);
    errY(g, 'ee-point', sx(v), hEE[i], hYErr[i], sy, '#4a58b8', 4);
  });
  frame(g, 'plot-h', 429, 661, 678.3, 887.3, {});
  xAxis(g, 'panel-h', sx, 887.3, hXTicks, 906, steps(-2.5, -3.3, -0.2));
  yAxis(g, 'panel-h', sy, 429, hYTicks, steps(5, 25, 10));
})();

/* ---------- Panel I ---------- */
(function () {
  const g = document.getElementById('panelI');
  const sx = lin(0, 77, 776, 1024.3), sy = lin(0, 80, 887, 662.3), sr = lin(0, -9, 662.3, 887);
  const step = 77 / (iVoltage.length - 1);
  mk('line', 'fe-average-line', {x1: sx(2), x2: sx(77), y1: sy(64), y2: sy(64), stroke: '#bcc3ca', 'stroke-width': 1, 'stroke-dasharray': '8 6'}, g);
  mk('polyline', 'cell-voltage-trace', {points: polyPts(iVoltage.map((v, i) => i * step), iVoltage, sx, sr), fill: 'none', stroke: '#dcbc48', 'stroke-width': 2.6}, g);
  iTime.forEach((t, i) => {
    mk('circle', 'fe-point', {cx: sx(t), cy: sy(iFE[i]), r: 5.6, fill: '#fff', stroke: '#c02c34', 'stroke-width': 1.6}, g);
  });
  frame(g, 'plot-i', 776, 662.3, 1024.3, 887, {left: '#d84a50', right: '#e8d080', top: '#222', bottom: '#222', leftW: 1.6, rightW: 1.6, topW: 1.8});
  xAxis(g, 'panel-i', sx, 887, iXTicks, 906, steps(5.5, 71.5, 11));
  yAxis(g, 'panel-i-left', sy, 776, iLeftTicks, steps(10, 70, 20), '#cc2a2a');
  yAxis(g, 'panel-i-right', sr, 1024.3, iRightTicks, steps(-1.5, -7.5, -3), '#dcb63c', true, 8);
})();
</script>
</body>
</html>
